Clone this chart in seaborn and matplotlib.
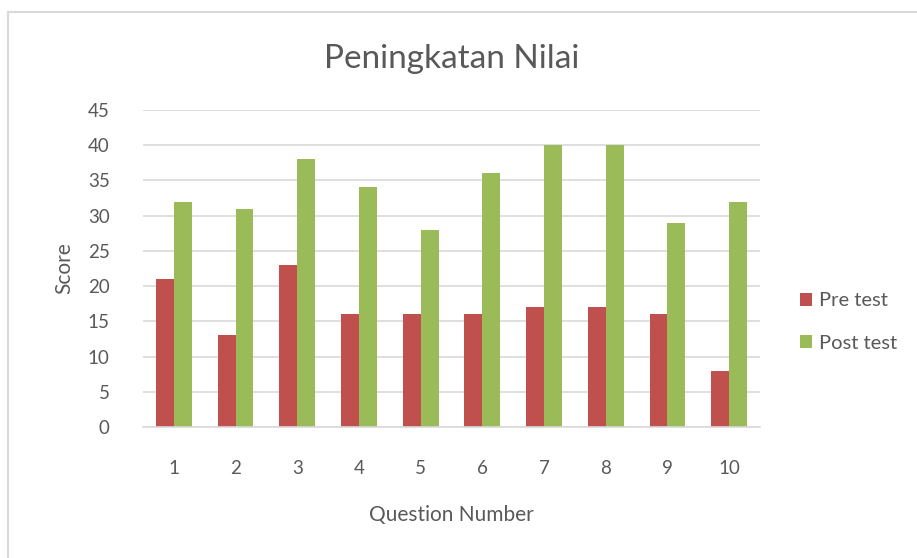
import matplotlib
matplotlib.use("Agg")
import matplotlib.pyplot as plt
import seaborn as sns
import pandas as pd
from matplotlib.patches import Rectangle, Patch

questions = ["1", "2", "3", "4", "5", "6", "7", "8", "9", "10"]
pre_test = [21, 13, 23, 16, 16, 16, 17, 17, 16, 8]
post_test = [32, 31, 38, 34, 28, 36, 40, 40, 29, 32]
series_names = ["Pre test", "Post test"]
yticks = [0, 5, 10, 15, 20, 25, 30, 35, 40, 45]

df = pd.DataFrame({
    "Question": questions * 2,
    "Score": pre_test + post_test,
    "Series": [series_names[0]] * len(questions) + [series_names[1]] * len(questions),
})

sns.set_theme(style="white")
plt.rcParams["font.family"] = ["Lato", "DejaVu Sans"]
txt = "#595959"
grid = "#D9D9D9"
colors = {"Pre test": "#C0504D", "Post test": "#9BBB59"}

fig = plt.figure(figsize=(9.17, 5.58), dpi=100)
fig.patch.set_facecolor("white")
fig.patches.append(Rectangle((8/917, -0.05), 1.0, 1 - 12/558 + 0.05, transform=fig.transFigure,
                             fill=False, edgecolor=grid, linewidth=1.5, zorder=0))
ax = fig.add_axes([143/917, 1 - 427/558, (760 - 143)/917, (427 - 110)/558])

sns.barplot(data=df, x="Question", y="Score", hue="Series", palette=colors,
            width=0.58, gap=0, saturation=1, ax=ax, legend=False, errorbar=None,
            linewidth=0, edgecolor="none")

ax.set_ylim(0, 45)
ax.set_yticks(yticks)
ax.yaxis.grid(True, color=grid, linewidth=1.2)
ax.set_axisbelow(True)
for s in ["top", "right", "left"]:
    ax.spines[s].set_visible(False)
ax.spines["bottom"].set_color(grid)
ax.spines["bottom"].set_linewidth(1.2)
ax.tick_params(axis="both", length=0, labelsize=13.5, colors=txt)
ax.tick_params(axis="y", pad=24)
ax.tick_params(axis="x", pad=24)
ax.set_xlabel("Question Number", fontsize=15, color=txt, labelpad=20)
ax.set_ylabel("Score", fontsize=15, color=txt, labelpad=10)
ax.set_title("Peningkatan Nilai", fontsize=24, color=txt, pad=30)

handles = [Patch(facecolor=colors[n], edgecolor="none") for n in series_names]
fig.legend(handles, series_names, loc="center left", bbox_to_anchor=(800/917, 1 - 322/558),
           frameon=False, fontsize=14.5, labelcolor=txt, handlelength=0.6, handleheight=0.6,
           handletextpad=0.35, labelspacing=1.25, borderpad=0, borderaxespad=0)

fig.savefig("out.png", dpi=100)
